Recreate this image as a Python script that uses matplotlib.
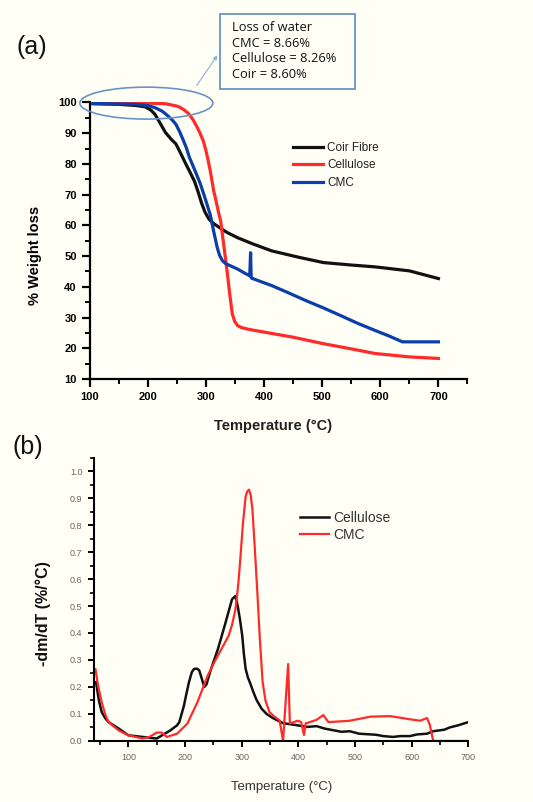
import numpy as np
import matplotlib
matplotlib.use('Agg')
import matplotlib.pyplot as plt
from matplotlib.patches import Ellipse, Rectangle
from matplotlib.ticker import MultipleLocator, FormatStrFormatter

plt.rcParams['font.family'] = ['Liberation Sans', 'DejaVu Sans']

# ---- (a) TGA curves: temperature (C) vs % weight
coir_T = [105, 150, 180, 195, 205, 212, 220, 230, 240, 248, 256, 265, 273, 280, 286, 292, 298, 305, 312, 319, 335, 354, 380, 413, 460, 502, 550, 591, 650, 700]
coir_W = [99.6, 99.4, 99.0, 98.6, 97.5, 96.1, 93.5, 90.2, 88.0, 86.5, 83.5, 80.0, 77.0, 74.3, 71.0, 67.3, 64.3, 62.0, 60.7, 59.8, 57.8, 56.0, 54.0, 51.7, 49.6, 47.9, 47.1, 46.5, 45.2, 42.7]

cell_T = [105, 200, 230, 250, 256, 262, 267, 271, 277, 283, 289, 295, 299, 303, 307, 310, 313, 317, 321, 325, 330, 336, 340, 345, 349, 354, 360, 370, 384, 450, 502, 550, 591, 650, 700]
cell_W = [99.8, 99.8, 99.6, 98.8, 98.3, 97.6, 96.8, 96.1, 94.5, 92.5, 90.2, 87.5, 84.8, 81.5, 77.8, 74.5, 71.2, 68.0, 64.5, 61.4, 54.0, 45.2, 38.5, 31.2, 28.8, 27.4, 26.8, 26.3, 25.8, 23.6, 21.5, 19.8, 18.3, 17.2, 16.7]

cmc_T = [105, 180, 200, 212, 224, 230, 236, 242, 248, 254, 260, 266, 271, 277, 283, 290, 297, 302, 307, 313, 319, 323, 328, 334, 340, 354, 365, 375, 376.5, 377.5, 378.5, 390, 413, 440, 472, 500, 531, 560, 591, 615, 638, 700]
cmc_W = [99.7, 99.4, 99.0, 98.3, 97.2, 96.3, 95.3, 94.2, 92.9, 90.6, 88.0, 85.2, 82.2, 79.5, 76.8, 73.5, 69.5, 66.5, 63.5, 58.0, 52.8, 50.3, 48.5, 47.5, 47.0, 45.8, 44.6, 43.6, 51.1, 43.0, 42.8, 42.0, 40.4, 38.2, 35.5, 33.3, 30.7, 28.2, 25.8, 24.0, 22.1, 22.1]

# ---- (b) DTG curves
dtg_cell_T = [43, 48, 53, 59, 65, 83, 100, 125, 150, 174, 186, 190, 198, 203, 207, 212, 216, 221, 225, 229, 234, 238, 242, 246, 258, 270, 283, 289, 293, 297, 301, 304, 307, 311, 315, 320, 326, 335, 344, 355, 373, 386, 416, 432, 446, 476, 491, 507, 537, 550, 567, 580, 597, 609, 627, 638, 658, 667, 682, 700]
dtg_cell_V = [0.218, 0.15, 0.107, 0.085, 0.070, 0.046, 0.021, 0.015, 0.009, 0.039, 0.058, 0.07, 0.13, 0.18, 0.218, 0.255, 0.267, 0.268, 0.262, 0.235, 0.2, 0.21, 0.24, 0.267, 0.34, 0.427, 0.525, 0.537, 0.5, 0.45, 0.39, 0.32, 0.267, 0.235, 0.214, 0.185, 0.153, 0.12, 0.1, 0.085, 0.066, 0.062, 0.052, 0.055, 0.046, 0.034, 0.036, 0.027, 0.023, 0.018, 0.015, 0.018, 0.018, 0.024, 0.027, 0.036, 0.042, 0.05, 0.058, 0.07]

dtg_cmc_T = [42, 47, 53, 59, 65, 83, 100, 125, 137, 150, 159, 168, 186, 204, 222, 240, 250, 258, 268, 277, 283, 289, 294, 298, 302, 307, 310, 313, 316, 319, 323, 328, 332, 337, 342, 349, 358, 367, 373, 382, 385, 392, 399, 405, 410, 413, 432, 444, 453, 470, 491, 527, 562, 598, 615, 627, 632, 638, 700]
dtg_cmc_V = [0.266, 0.2, 0.144, 0.1, 0.07, 0.039, 0.021, 0.009, 0.015, 0.031, 0.031, 0.015, 0.027, 0.064, 0.144, 0.242, 0.285, 0.316, 0.355, 0.39, 0.43, 0.488, 0.58, 0.685, 0.8, 0.906, 0.925, 0.931, 0.91, 0.857, 0.72, 0.537, 0.38, 0.218, 0.15, 0.107, 0.09, 0.076, 0.0, 0.285, 0.065, 0.07, 0.075, 0.07, 0.022, 0.065, 0.078, 0.096, 0.07, 0.072, 0.075, 0.09, 0.092, 0.08, 0.075, 0.085, 0.06, 0.0, 0.0]

callout = "Loss of water\nCMC = 8.66%\nCellulose = 8.26%\nCoir = 8.60%"

bg = '#fffff6'
red = '#ff2a2a'
blue = '#0b3ea8'

fig = plt.figure(figsize=(5.33, 8.02), dpi=100, facecolor=bg)

# ================= panel (a)
ax1 = fig.add_axes([0.1689, 0.5274, 0.7082, 0.3448], facecolor=bg)
ax1.plot(coir_T, coir_W, color='#111111', lw=2.3, label='Coir Fibre')
ax1.plot(cell_T, cell_W, color=red, lw=2.3, label='Cellulose')
ax1.plot(cmc_T, cmc_W, color=blue, lw=2.3, label='CMC')
ax1.set_xlim(100, 750)
ax1.set_ylim(10, 100)
ax1.set_xticks([100, 200, 300, 400, 500, 600, 700])
ax1.xaxis.set_minor_locator(MultipleLocator(50))
ax1.yaxis.set_major_locator(MultipleLocator(10))
ax1.yaxis.set_minor_locator(MultipleLocator(5))
for s in ['top', 'right']:
    ax1.spines[s].set_visible(False)
for s in ['left', 'bottom']:
    ax1.spines[s].set_linewidth(1.6)
ax1.tick_params(which='major', direction='out', length=5.5, width=1.6, labelsize=8, pad=4)
ax1.tick_params(which='minor', direction='out', length=3.5, width=1.4)
for lab in ax1.get_xticklabels() + ax1.get_yticklabels():
    lab.set_fontweight('bold')
ax1.set_ylabel('% Weight loss', fontsize=10.5, fontweight='bold')
ax1.yaxis.set_label_coords(-0.127, 0.448)
ax1.set_xlabel('Temperature (°C)', fontsize=10.5, fontweight='bold', color='#222222')
ax1.xaxis.set_label_coords(0.485, -0.145)

leg1 = ax1.legend(loc='upper left', bbox_to_anchor=(0.538, 0.857), frameon=False, fontsize=8.5,
                  handlelength=2.5, handletextpad=0.4, labelspacing=0.45, borderpad=0, borderaxespad=0)
for t in leg1.get_texts():
    t.set_color('#222222')

ell = Ellipse((197, 99.8), 229, 10.4, fill=False, edgecolor='#6a93c4', lw=1.2, clip_on=False, zorder=5)
ax1.add_patch(ell)

# callout box
fig.add_artist(Rectangle((220 / 533, 1 - 89 / 802), 135 / 533, 75 / 802, transform=fig.transFigure,
                         fill=False, edgecolor='#6a93c4', lw=1.3))
fig.text(232 / 533, 1 - 21 / 802, callout, fontsize=9.3, va='top', ha='left', linespacing=1.27,
         family=['Open Sans', 'DejaVu Sans'], color='#111111')
ax1.annotate('', xy=(219 / 533, 1 - 53 / 802), xycoords='figure fraction',
             xytext=(195 / 533, 1 - 88 / 802), textcoords='figure fraction',
             arrowprops=dict(arrowstyle='-|>', color='#8fb0d8', lw=0.8, mutation_scale=6))

fig.text(32 / 533, 1 - 47 / 802, '(a)', fontsize=18, ha='center', va='center', color='#111111')

# ================= panel (b)
ax2 = fig.add_axes([0.177, 0.0761, 0.7017, 0.3534], facecolor=bg)
ax2.plot(dtg_cell_T, dtg_cell_V, color='#111111', lw=1.8, label='Cellulose')
ax2.plot(dtg_cmc_T, dtg_cmc_V, color=red, lw=1.6, label='CMC')
ax2.set_xlim(40, 700)
ax2.set_ylim(0, 1.05)
ax2.set_xticks([100, 200, 300, 400, 500, 600, 700])
ax2.xaxis.set_minor_locator(MultipleLocator(50))
ax2.set_yticks(np.arange(0, 1.01, 0.1))
ax2.yaxis.set_minor_locator(MultipleLocator(0.05))
ax2.yaxis.set_major_formatter(FormatStrFormatter('%.1f'))
for s in ['top', 'right']:
    ax2.spines[s].set_visible(False)
for s in ['left', 'bottom']:
    ax2.spines[s].set_linewidth(1.5)
ax2.tick_params(which='major', direction='out', length=4.5, width=1.4, labelsize=6.5, labelcolor='#666666', pad=4)
ax2.tick_params(which='minor', direction='out', length=3, width=1.2)
ax2.set_ylabel('-dm/dT (%/°C)', fontsize=11.5, fontweight='bold', color='#111111')
ax2.yaxis.set_label_coords(-0.116, 0.448)
ax2.set_xlabel('Temperature (°C)', fontsize=9.5, color='#333333')
ax2.xaxis.set_label_coords(0.501, -0.14)

leg2 = ax2.legend(loc='upper left', bbox_to_anchor=(0.55, 0.812), frameon=False, fontsize=10,
                  handlelength=2.1, handletextpad=0.3, labelspacing=0.2, borderpad=0, borderaxespad=0)
for t in leg2.get_texts():
    t.set_color('#333333')

fig.text(28 / 533, 1 - 447 / 802, '(b)', fontsize=18, ha='center', va='center', color='#111111')

fig.savefig('out.png', dpi=100, facecolor=bg)
